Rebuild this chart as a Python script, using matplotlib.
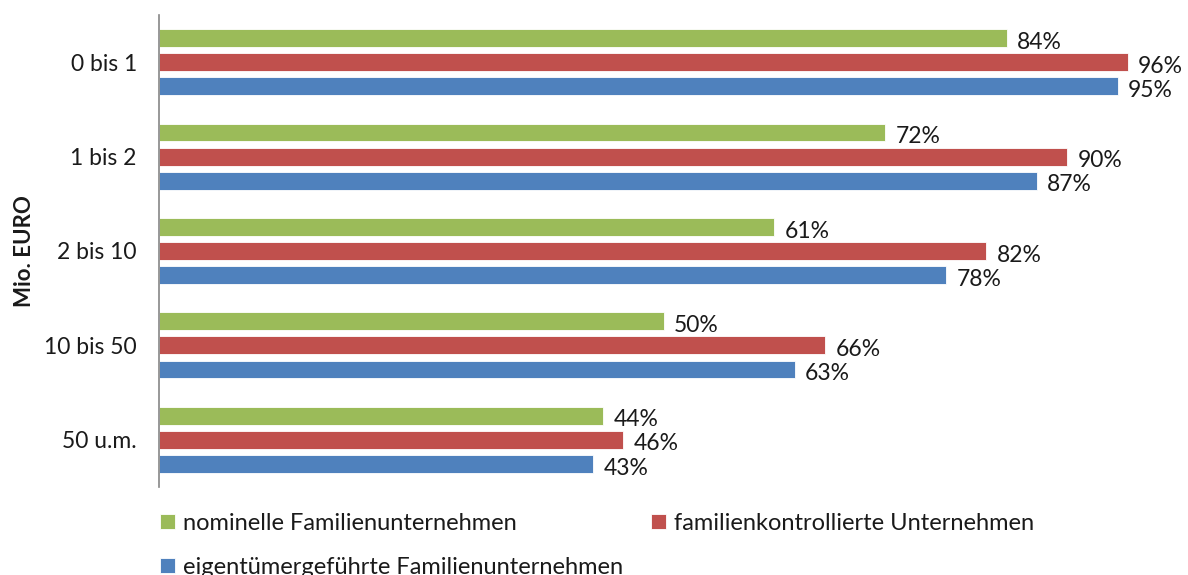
import matplotlib
matplotlib.use("Agg")
import matplotlib.pyplot as plt
import numpy as np

plt.rcParams['font.family'] = ['Lato', 'DejaVu Sans']

categories = ["0 bis 1", "1 bis 2", "2 bis 10", "10 bis 50", "50 u.m."]
series_names = ["nominelle Familienunternehmen",
                "familienkontrollierte Unternehmen",
                "eigentümergeführte Familienunternehmen"]
nominell = [84, 72, 61, 50, 44]
kontrolliert = [96, 90, 82, 66, 46]
eigentuemer = [95, 87, 78, 63, 43]
colors = ["#9BBB59", "#C0504D", "#4F81BD"]

FS = 16.5
LFS = 17

fig = plt.figure(figsize=(11.88, 5.75), dpi=100)
ax = fig.add_axes([159/1188, 1-487/575, (1168-159)/1188, (487-15)/575])

y = np.arange(len(categories))
h = 0.19
step = 0.255
handles = []
for i, (vals, c, name) in enumerate(zip([nominell, kontrolliert, eigentuemer], colors, series_names)):
    pos = y + (i - 1) * step
    b = ax.barh(pos, [v/100 for v in vals], height=h, color=c, edgecolor='white', linewidth=0.6, label=name)
    handles.append(b)
    for p, v in zip(pos, vals):
        ax.annotate(f"{v}%", (v/100, p), xytext=(7.5, -3), textcoords='offset points',
                    va='center', ha='left', fontsize=FS, color='#1a1a1a')

ax.set_xlim(0, 1.0)
ax.set_ylim(len(categories) - 0.5, -0.5)
ax.set_yticks(y)
ax.set_yticklabels(categories, fontsize=FS, color='#1a1a1a')
ax.tick_params(axis='y', length=0, pad=16)
ax.set_xticks([])
for s in ['top', 'right', 'bottom']:
    ax.spines[s].set_visible(False)
ax.spines['left'].set_color('#868686')
ax.spines['left'].set_linewidth(1.2)

fig.text(25/1188, 1-251/575, "Mio. EURO", rotation=90, ha='center', va='center',
         fontsize=16, fontweight='bold', color='#1a1a1a')

leg = fig.legend([handles[0], handles[2], handles[1]],
                 [series_names[0], series_names[2], series_names[1]],
                 ncol=2, loc='upper left', bbox_to_anchor=(160/1188, 1-513/575),
                 frameon=False, fontsize=LFS, handlelength=0.62, handleheight=0.62,
                 handletextpad=0.35, columnspacing=1.2, labelspacing=0.98,
                 borderaxespad=0, borderpad=0)
for t in leg.get_texts():
    t.set_color('#1a1a1a')

fig.savefig("out.png", dpi=100)
